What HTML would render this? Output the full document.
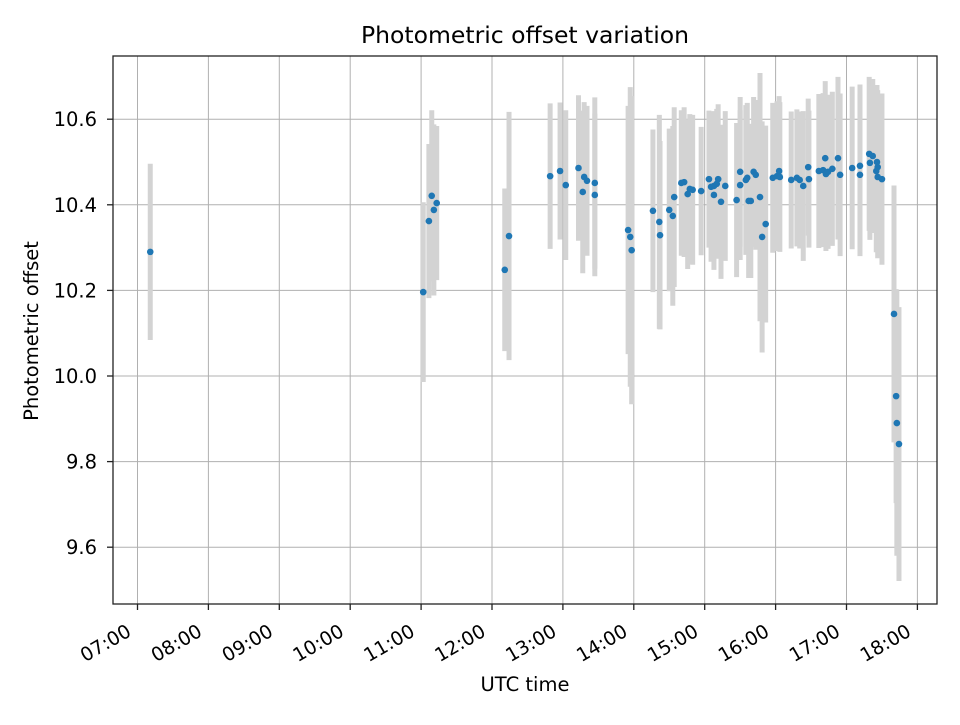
<!DOCTYPE html>
<html><head><meta charset="utf-8"><style>
body{margin:0;background:#fff;}
svg text{font-family:"DejaVu Sans","Liberation Sans",sans-serif;}
</style></head><body>
<svg id="chart" width="960" height="720" xmlns="http://www.w3.org/2000/svg"></svg>
<script>
const times=[7.18,11.03,11.11,11.15,11.18,11.22,12.18,12.24,12.82,12.96,13.04,13.22,13.30,13.34,13.28,13.45,13.45,13.92,13.95,13.97,
14.27,14.36,14.37,14.50,14.55,14.57,14.67,14.71,14.76,14.79,14.83,14.95,15.06,15.09,15.13,15.13,15.17,15.19,15.23,15.29,
15.45,15.50,15.50,15.58,15.60,15.62,15.65,15.69,15.72,15.78,15.81,15.86,15.96,16.02,16.05,16.06,16.22,16.30,16.34,16.39,
16.46,16.47,16.61,16.67,16.70,16.71,16.74,16.80,16.88,16.91,17.08,17.19,17.19,17.32,17.37,17.33,17.43,17.44,17.42,17.44,17.50,
17.67,17.70,17.71,17.74];
const values=[10.29,10.196,10.362,10.421,10.388,10.404,10.248,10.327,10.467,10.479,10.446,10.486,10.465,10.456,10.430,10.451,10.423,10.341,10.325,10.294,
10.386,10.360,10.329,10.388,10.374,10.418,10.451,10.453,10.425,10.437,10.435,10.432,10.460,10.442,10.444,10.423,10.449,10.460,10.407,10.444,
10.411,10.477,10.446,10.458,10.463,10.409,10.409,10.477,10.470,10.418,10.325,10.355,10.463,10.467,10.479,10.465,10.458,10.463,10.458,10.444,
10.488,10.460,10.479,10.481,10.509,10.472,10.477,10.484,10.509,10.470,10.486,10.491,10.470,10.519,10.514,10.498,10.500,10.488,10.479,10.465,10.460,
10.145,9.953,9.890,9.841];
const errors=[0.206,0.21,0.18,0.20,0.20,0.18,0.19,0.29,0.17,0.16,0.175,0.17,0.175,0.175,0.19,0.20,0.19,0.29,0.35,0.36,
0.19,0.25,0.22,0.19,0.21,0.21,0.17,0.175,0.175,0.175,0.175,0.15,0.16,0.175,0.175,0.175,0.175,0.175,0.18,0.175,
0.18,0.175,0.175,0.175,0.175,0.18,0.18,0.175,0.175,0.29,0.27,0.23,0.175,0.175,0.175,0.175,0.16,0.16,0.16,0.175,
0.16,0.16,0.18,0.18,0.18,0.18,0.18,0.18,0.19,0.19,0.19,0.19,0.19,0.18,0.18,0.18,0.18,0.18,0.19,0.19,0.20,
0.30,0.25,0.31,0.32];
const xTickHours=[7,8,9,10,11,12,13,14,15,16,17,18];
const xTickLabels=["07:00","08:00","09:00","10:00","11:00","12:00","13:00","14:00","15:00","16:00","17:00","18:00"];
const yTicks=[9.6,9.8,10.0,10.2,10.4,10.6];
const yTickLabels=["9.6","9.8","10.0","10.2","10.4","10.6"];

const L=113,R=937,T=56,B=604;
const X=h=>137.5+(h-7)*70.9;
const Y=v=>376-(v-10)*428;
const svg=document.getElementById('chart');
const NS='http://www.w3.org/2000/svg';
function mk(tag,attrs,parent){const e=document.createElementNS(NS,tag);for(const k in attrs)e.setAttribute(k,attrs[k]);(parent||svg).appendChild(e);return e;}

const grid=mk('g',{});


xTickHours.forEach((h,i)=>{
  const x=X(h);
  mk('line',{x1:x,x2:x,y1:T,y2:B,stroke:'#b0b0b0','stroke-width':1},grid);
  mk('line',{x1:x,x2:x,y1:B,y2:B+6,stroke:'#222','stroke-width':1.3},grid);
  const ax=x-5, ay=B+31;
  const t=mk('text',{x:ax,y:ay,'font-size':19,'text-anchor':'end',transform:`rotate(-30 ${ax} ${ay})`});
  
  
  t.textContent=xTickLabels[i];
});
yTicks.forEach((v,i)=>{
  const y=Y(v);
  mk('line',{x1:L,x2:R,y1:y,y2:y,stroke:'#b0b0b0','stroke-width':1},grid);
  mk('line',{x1:L-6,x2:L,y1:y,y2:y,stroke:'#222','stroke-width':1.3},grid);
  const t=mk('text',{x:L-16,y:y+7,'font-size':19.5,'text-anchor':'end'});
  
  
  t.textContent=yTickLabels[i];
});
const bars=mk('g',{});


times.forEach((h,i)=>{
  const l=mk('line',{x1:X(h),x2:X(h),y1:Y(values[i]+errors[i]),y2:Y(values[i]-errors[i]),stroke:'#d3d3d3','stroke-width':5},bars);
  
  
});
const pts=mk('g',{});


times.forEach((h,i)=>{
  const c=mk('circle',{cx:X(h),cy:Y(values[i]),r:3.3,fill:'#1f77b4'},pts);
  
  
});
const frame=mk('rect',{x:L,y:T,width:R-L,height:B-T,fill:'none',stroke:'#222','stroke-width':1.3});


const title=mk('text',{x:525,y:43,'font-size':23.5,'text-anchor':'middle'});


title.textContent='Photometric offset variation';
const xt=mk('text',{x:525,y:691,'font-size':19.5,'text-anchor':'middle'});


xt.textContent='UTC time';
const yt=mk('text',{x:38,y:331,'font-size':19.5,'text-anchor':'middle',transform:'rotate(-90 38 331)'});


yt.textContent='Photometric offset';
</script>
</body></html>
